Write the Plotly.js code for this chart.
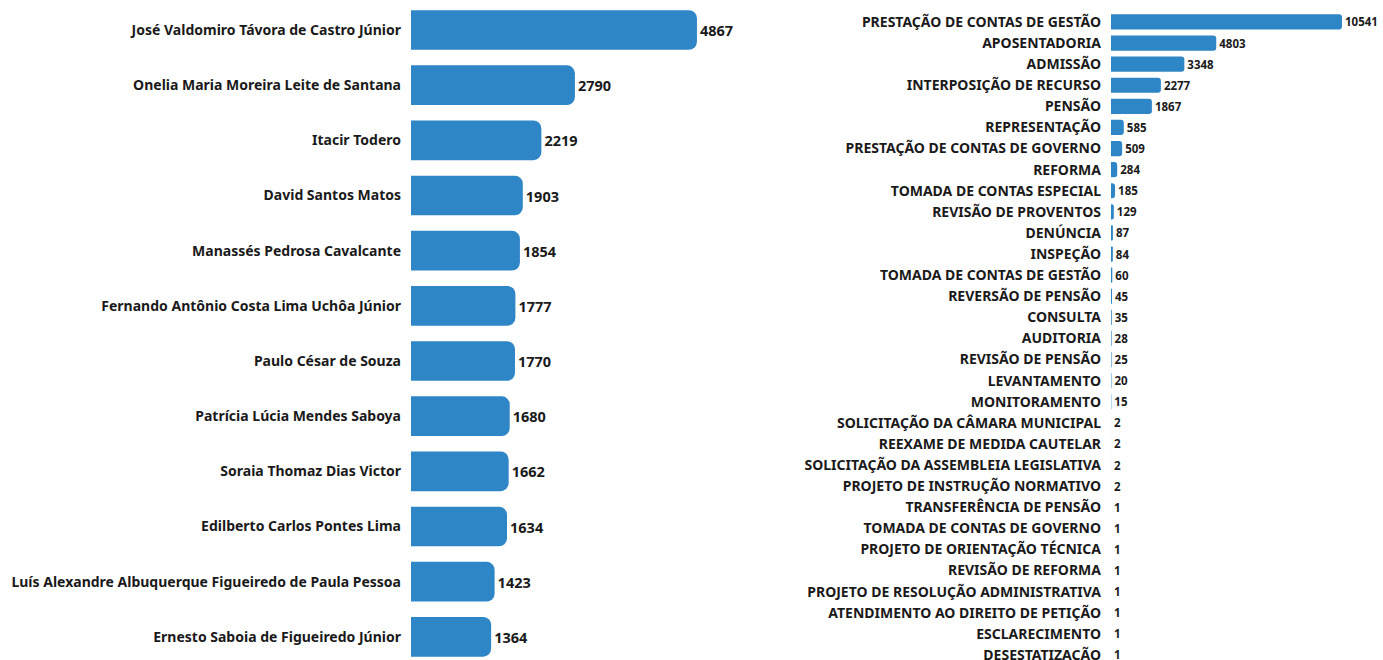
<!DOCTYPE html>
<html>
<head>
<meta charset="utf-8">
<script src="https://cdn.plot.ly/plotly-3.0.1.min.js"></script>
<style>html,body{margin:0;padding:0;background:#fff;overflow:hidden;}#chart{width:1383px;height:660px;}</style>
</head>
<body>
<div id="chart"></div>
<script>
const relatores = [
  "José Valdomiro Távora de Castro Júnior",
  "Onelia Maria Moreira Leite de Santana",
  "Itacir Todero",
  "David Santos Matos",
  "Manassés Pedrosa Cavalcante",
  "Fernando Antônio Costa Lima Uchôa Júnior",
  "Paulo César de Souza",
  "Patrícia Lúcia Mendes Saboya",
  "Soraia Thomaz Dias Victor",
  "Edilberto Carlos Pontes Lima",
  "Luís Alexandre Albuquerque Figueiredo de Paula Pessoa",
  "Ernesto Saboia de Figueiredo Júnior"
];
const relatoresValores = [4867, 2790, 2219, 1903, 1854, 1777, 1770, 1680, 1662, 1634, 1423, 1364];

const tipos = [
  "PRESTAÇÃO DE CONTAS DE GESTÃO",
  "APOSENTADORIA",
  "ADMISSÃO",
  "INTERPOSIÇÃO DE RECURSO",
  "PENSÃO",
  "REPRESENTAÇÃO",
  "PRESTAÇÃO DE CONTAS DE GOVERNO",
  "REFORMA",
  "TOMADA DE CONTAS ESPECIAL",
  "REVISÃO DE PROVENTOS",
  "DENÚNCIA",
  "INSPEÇÃO",
  "TOMADA DE CONTAS DE GESTÃO",
  "REVERSÃO DE PENSÃO",
  "CONSULTA",
  "AUDITORIA",
  "REVISÃO DE PENSÃO",
  "LEVANTAMENTO",
  "MONITORAMENTO",
  "SOLICITAÇÃO DA CÂMARA MUNICIPAL",
  "REEXAME DE MEDIDA CAUTELAR",
  "SOLICITAÇÃO DA ASSEMBLEIA LEGISLATIVA",
  "PROJETO DE INSTRUÇÃO NORMATIVO",
  "TRANSFERÊNCIA DE PENSÃO",
  "TOMADA DE CONTAS DE GOVERNO",
  "PROJETO DE ORIENTAÇÃO TÉCNICA",
  "REVISÃO DE REFORMA",
  "PROJETO DE RESOLUÇÃO ADMINISTRATIVA",
  "ATENDIMENTO AO DIREITO DE PETIÇÃO",
  "ESCLARECIMENTO",
  "DESESTATIZAÇÃO"
];
const tiposValores = [10541, 4803, 3348, 2277, 1867, 585, 509, 284, 185, 129, 87, 84, 60, 45, 35, 28, 25, 20, 15, 2, 2, 2, 2, 1, 1, 1, 1, 1, 1, 1, 1];

const FONT = "'Noto Sans', 'Open Sans', sans-serif";
const BLUE = "#2f86c6";
const W = 1383;

const traces = [
  {
    type: "bar", orientation: "h",
    x: relatoresValores, y: relatores,
    xaxis: "x", yaxis: "y",
    marker: {color: BLUE, cornerradius: 8},
    width: 0.72,
    text: relatoresValores.map(String),
    textposition: "outside",
    constraintext: "none",
    cliponaxis: false,
    textfont: {family: FONT, size: 14.5, color: "#1a1a1a", weight: 700},
    hoverinfo: "x+y"
  },
  {
    type: "bar", orientation: "h",
    x: tiposValores, y: tipos,
    xaxis: "x2", yaxis: "y2",
    marker: {color: BLUE, cornerradius: 3},
    width: 0.72,
    text: tiposValores.map(String),
    textposition: "outside",
    constraintext: "none",
    cliponaxis: false,
    textfont: {family: FONT, size: 11.5, color: "#1a1a1a", weight: 700},
    hoverinfo: "x+y"
  }
];

const layout = {
  width: W, height: 660,
  margin: {l: 0, r: 0, t: 0, b: 0, pad: 0},
  paper_bgcolor: "#fff", plot_bgcolor: "#fff",
  showlegend: false,
  font: {family: FONT, color: "#1a1a1a"},
  xaxis: {domain: [411 / W, 760 / W], range: [0, 5940], visible: false, fixedrange: true},
  yaxis: {
    anchor: "x", type: "category", categoryorder: "array", categoryarray: relatores,
    range: [11.42, -0.544], showgrid: false, zeroline: false, showline: false, ticks: "",
    ticklabelstandoff: 9,
    tickfont: {family: FONT, size: 14, color: "#1a1a1a", weight: 700}
  },
  xaxis2: {domain: [1111 / W, 1], range: [0, 12413], visible: false, fixedrange: true},
  yaxis2: {
    anchor: "x2", type: "category", categoryorder: "array", categoryarray: tipos,
    range: [30.24, -1.04], showgrid: false, zeroline: false, showline: false, ticks: "",
    ticklabelstandoff: 9,
    tickfont: {family: FONT, size: 14, color: "#1a1a1a", weight: 700}
  }
};

Plotly.newPlot("chart", traces, layout, {displayModeBar: false, staticPlot: true});
</script>
</body>
</html>
